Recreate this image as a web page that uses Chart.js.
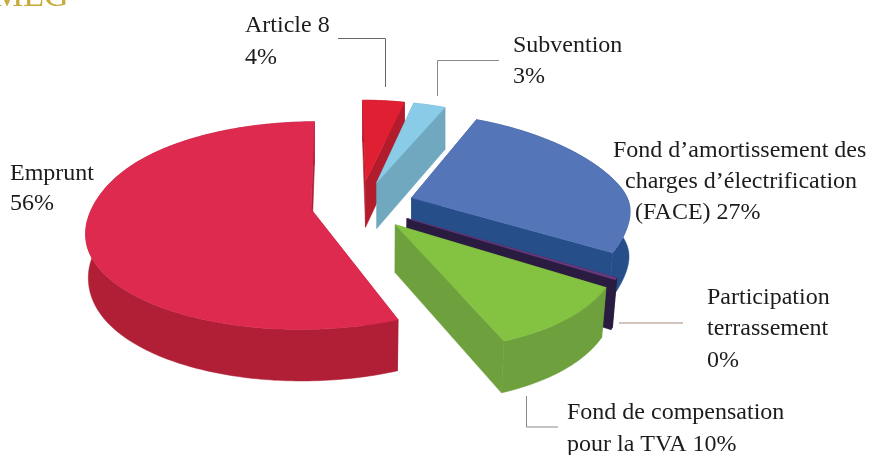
<!DOCTYPE html>
<html><head><meta charset="utf-8">
<style>html,body{margin:0;padding:0;background:#fff;width:871px;height:455px;overflow:hidden}canvas{display:block}</style>
<script src="https://cdn.jsdelivr.net/npm/chart.js@4"></script></head>
<body><canvas id="c" width="871" height="455"></canvas>
<script>
const categories=["Emprunt","Article 8","Subvention","Fond d’amortissement des charges d’électrification (FACE)","Participation terrassement","Fond de compensation pour la TVA"];
const values=[56,4,3,27,0.3,10];
const topColors=["#dd2a4e","#e01f33","#8accE8","#5475b8","#6a3a80","#84c241"];
const sideColors=["#b01f35","#b31c2c","#6fa8bf","#264f8a","#2a1c40","#6ea03e"];
const explode=[49,55,55,55,55,55];
const labelTexts=[
 ["Emprunt",10,180],["56%",10,210],
 ["Article 8",245,32],["4%",245,64],
 ["Subvention",513,52],["3%",513,83],
 ["Fond d’amortissement des",613,157],["charges d’électrification",625,188],["(FACE) 27%",635,219],
 ["Participation",707,304],["terrassement",707,335],["0%",707,367],
 ["Fond de compensation",567,419],["pour la TVA 10%",567,451]];
const leaders=[
 [[338,38.5],[385.5,38.5],[385.5,87],"#666"],
 [[499,60.5],[437.5,60.5],[437.5,96],"#888"],
 [[619,323],[683,323],"#a58a7c"],
 [[526.5,396],[526.5,427],[558,427],"#888"]];
const CX=359.5,CY=205,R=218,H=47;
function proj(u,v,d){
  const g=0.45+v*(0.000335+0.000095*Math.tanh(v/100));
  let s;
  if(u<0) s=1+(v/1000)*(0.75+0.25*Math.tanh(v/100));
  else { const w=0.5*(1+Math.tanh(v/60)); s=1+v*((1-w)*0.00085+w*(0.00033+2.88e-6*Math.max(v,0))); }
  let x=CX+u*s, y=CY+v*g;
  if(d){ y+=H*(1+v/2400); x=CX+(x-CX)*(1-0.009*(1+Math.tanh((v-50)/60))); }
  return [x,y];
}
function outline(a){
  const mid=(a.startAngle+a.endAngle)/2, off=a.options.offset;
  const ou=Math.cos(mid)*off, ov=Math.sin(mid)*off, rim=[];
  const n=Math.max(2,Math.ceil((a.endAngle-a.startAngle)*60));
  for(let i=0;i<=n;i++){const t=a.startAngle+(a.endAngle-a.startAngle)*i/n;
    rim.push([ou+R*Math.cos(t),ov+R*Math.sin(t)]);}
  return {apex:[ou,ov],rim};
}
function poly(ctx,list){ctx.beginPath();list.forEach((P,k)=>k?ctx.lineTo(P[0],P[1]):ctx.moveTo(P[0],P[1]));ctx.closePath();ctx.fill();ctx.stroke();}
const pie3d={id:'pie3d',
 beforeDatasetDraw(chart){
  const ctx=chart.ctx,arcs=chart.getDatasetMeta(0).data;
  [1,2,3,4,0,5].forEach(i=>{
    const {apex,rim}=outline(arcs[i]);
    ctx.fillStyle=sideColors[i];ctx.strokeStyle=sideColors[i];ctx.lineWidth=0.5;
    const first=rim[0],last=rim[rim.length-1];
    [first,last].forEach(e=>poly(ctx,[proj(apex[0],apex[1]),proj(e[0],e[1]),proj(e[0],e[1],1),proj(apex[0],apex[1],1)]));
    poly(ctx,rim.map(p=>proj(p[0],p[1])).concat(rim.slice().reverse().map(p=>proj(p[0],p[1],1))));
    ctx.fillStyle=topColors[i];ctx.strokeStyle=topColors[i];
    poly(ctx,[proj(apex[0],apex[1])].concat(rim.map(p=>proj(p[0],p[1]))));
  });
  return false;
 },
 afterDraw(chart){
  const ctx=chart.ctx;ctx.save();
  leaders.forEach(l=>{
    const pts=l.slice(0,-1);ctx.strokeStyle=l[l.length-1];ctx.lineWidth=1;ctx.beginPath();
    pts.forEach((p,k)=>k?ctx.lineTo(...p):ctx.moveTo(...p));ctx.stroke();});
  ctx.fillStyle="#1c1c1c";ctx.font='24px "Liberation Serif"';ctx.textBaseline="alphabetic";
  labelTexts.forEach(([t,x,y])=>ctx.fillText(t,x,y));
  ctx.fillStyle="#c8a93b";ctx.font='34px "Liberation Serif"';ctx.fillText("MEG",-7,6);
  ctx.restore();
 }};
new Chart(document.getElementById('c'),{type:'pie',
 data:{labels:categories,datasets:[{data:values,backgroundColor:topColors,offset:explode,borderWidth:0}]},
 options:{responsive:false,animation:false,rotation:158.4,plugins:{legend:{display:false},tooltip:{enabled:false}}},
 plugins:[pie3d]});
</script></body></html>
